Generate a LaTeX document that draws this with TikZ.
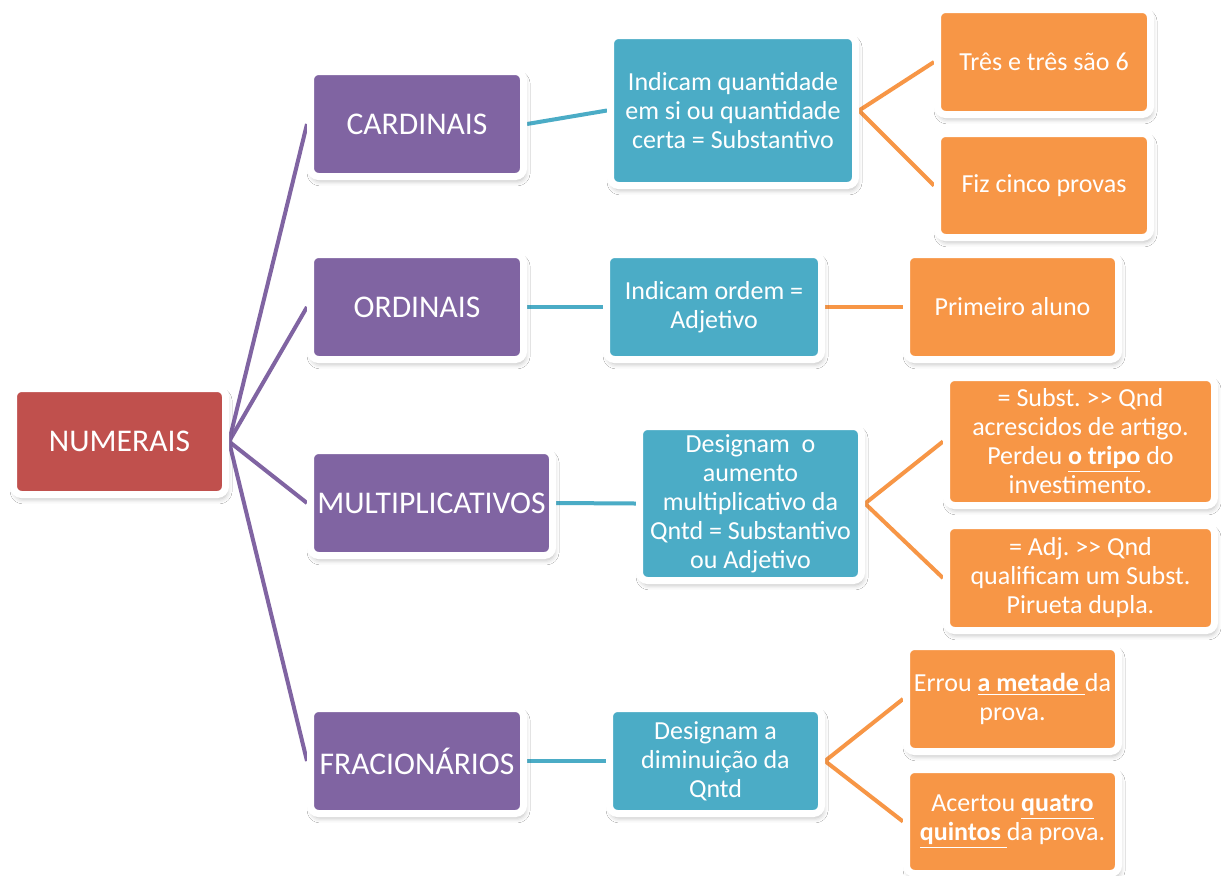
\documentclass[tikz,border=0pt]{standalone}
\usepackage{fontspec}
\setmainfont{Carlito}
\usetikzlibrary{backgrounds,shadows.blur}
\frenchspacing

\definecolor{numred}{HTML}{C0504D}
\definecolor{catpurple}{HTML}{8064A2}
\definecolor{defteal}{HTML}{4BACC6}
\definecolor{exorange}{HTML}{F79646}

\newcommand{\gtgt}{>\kern0pt>}

\tikzset{
  box/.style={draw=white, line width=3.5pt, rounded corners=4pt, text=white,
    inner sep=0pt, align=center,
    blur shadow={shadow xshift=0.8pt, shadow yshift=-2.2pt, shadow blur radius=2.5pt, shadow opacity=28}},
  sz/.style 2 args={minimum width=#1*0.5pt+3.5pt, minimum height=#2*0.5pt+3.5pt},
  bigtext/.style={font=\fontsize{15.8}{18}\selectfont},
  smalltext/.style={font=\fontsize{13}{14.5}\selectfont},
  rootbox/.style={box, bigtext, fill=numred},
  catbox/.style={box, bigtext, fill=catpurple},
  defbox/.style={box, smalltext, fill=defteal},
  exbox/.style={box, smalltext, fill=exorange},
  link/.style={line width=2pt},
  catlink/.style={link, draw=catpurple},
  deflink/.style={link, draw=defteal},
  exlink/.style={link, draw=exorange}
}

\begin{document}
\begin{tikzpicture}[x=0.5pt, y=-0.5pt]
  \useasboundingbox (0,0) rectangle (1221,875);

  % root
  \node[rootbox, sz={205}{99}] (num) at (119.5,441.5) {NUMERAIS};

  % categories
  \node[catbox, sz={206}{98}] (card) at (417,124) {CARDINAIS};
  \node[catbox, sz={206}{98}] (ord)  at (417,307) {ORDINAIS};
  \node[catbox, sz={235}{98}] (mult) at (431.5,503) {MULTIPLICATIVOS};
  \node[catbox, sz={206}{98}] (frac) at (417,761) {FRACIONÁRIOS};

  % definitions
  \node[defbox, sz={238}{143}] (dcard) at (733,110.5)
    {Indicam quantidade\\em si ou quantidade\\certa = Substantivo};
  \node[defbox, sz={208}{98}] (dord) at (714,307)
    {Indicam ordem =\\Adjetivo};
  \node[defbox, sz={215}{147}] (dmult) at (750.5,503.5)
    {Designam\ \ o\\aumento\\multiplicativo da\\Qntd = Substantivo\\ou Adjetivo};
  \node[defbox, sz={205}{98}] (dfrac) at (715.5,761)
    {Designam a\\diminuição da\\Qntd};

  % examples
  \node[exbox, sz={206}{98}] (ex1) at (1044,62) {Três e três são 6};
  \node[exbox, sz={206}{97}] (ex2) at (1044,185.5) {Fiz cinco provas};
  \node[exbox, sz={205}{98}] (ex3) at (1012.5,307) {Primeiro aluno};
  \node[exbox, sz={261}{121}] (ex4) at (1080.5,441.5)
    {= Subst. \gtgt{} Qnd\\acrescidos de artigo.\\Perdeu \underline{\textbf{o tripo}} do\\investimento.};
  \node[exbox, sz={261}{98}] (ex5) at (1080.5,578)
    {= Adj. \gtgt{} Qnd\\qualificam um Subst.\\Pirueta dupla.};
  \node[exbox, sz={205}{98}] (ex6) at (1012.5,699)
    {Errou \underline{\textbf{a metade}\ }da\\prova.};
  \node[exbox, sz={205}{97}] (ex7) at (1012.5,821.5)
    {Acertou \underline{\textbf{quatro}}\\\underline{\textbf{quintos}\ }da prova.};

  \begin{scope}[on background layer]
    \fill[white] (0,0) rectangle (1221,875);
    \foreach \c in {card,ord,mult,frac}
      \draw[catlink] (num.east) -- (\c.west);
    \draw[deflink] (card.east) -- (dcard.west);
    \draw[deflink] (ord.east)  -- (dord.west);
    \draw[deflink] (mult.east) -- (dmult.west);
    \draw[deflink] (frac.east) -- (dfrac.west);
    \draw[exlink] (ex1.west) -- (dcard.east) -- (ex2.west);
    \draw[exlink] (dord.east) -- (ex3.west);
    \draw[exlink] (ex4.west) -- (dmult.east) -- (ex5.west);
    \draw[exlink] (ex6.west) -- (dfrac.east) -- (ex7.west);
  \end{scope}
\end{tikzpicture}
\end{document}
